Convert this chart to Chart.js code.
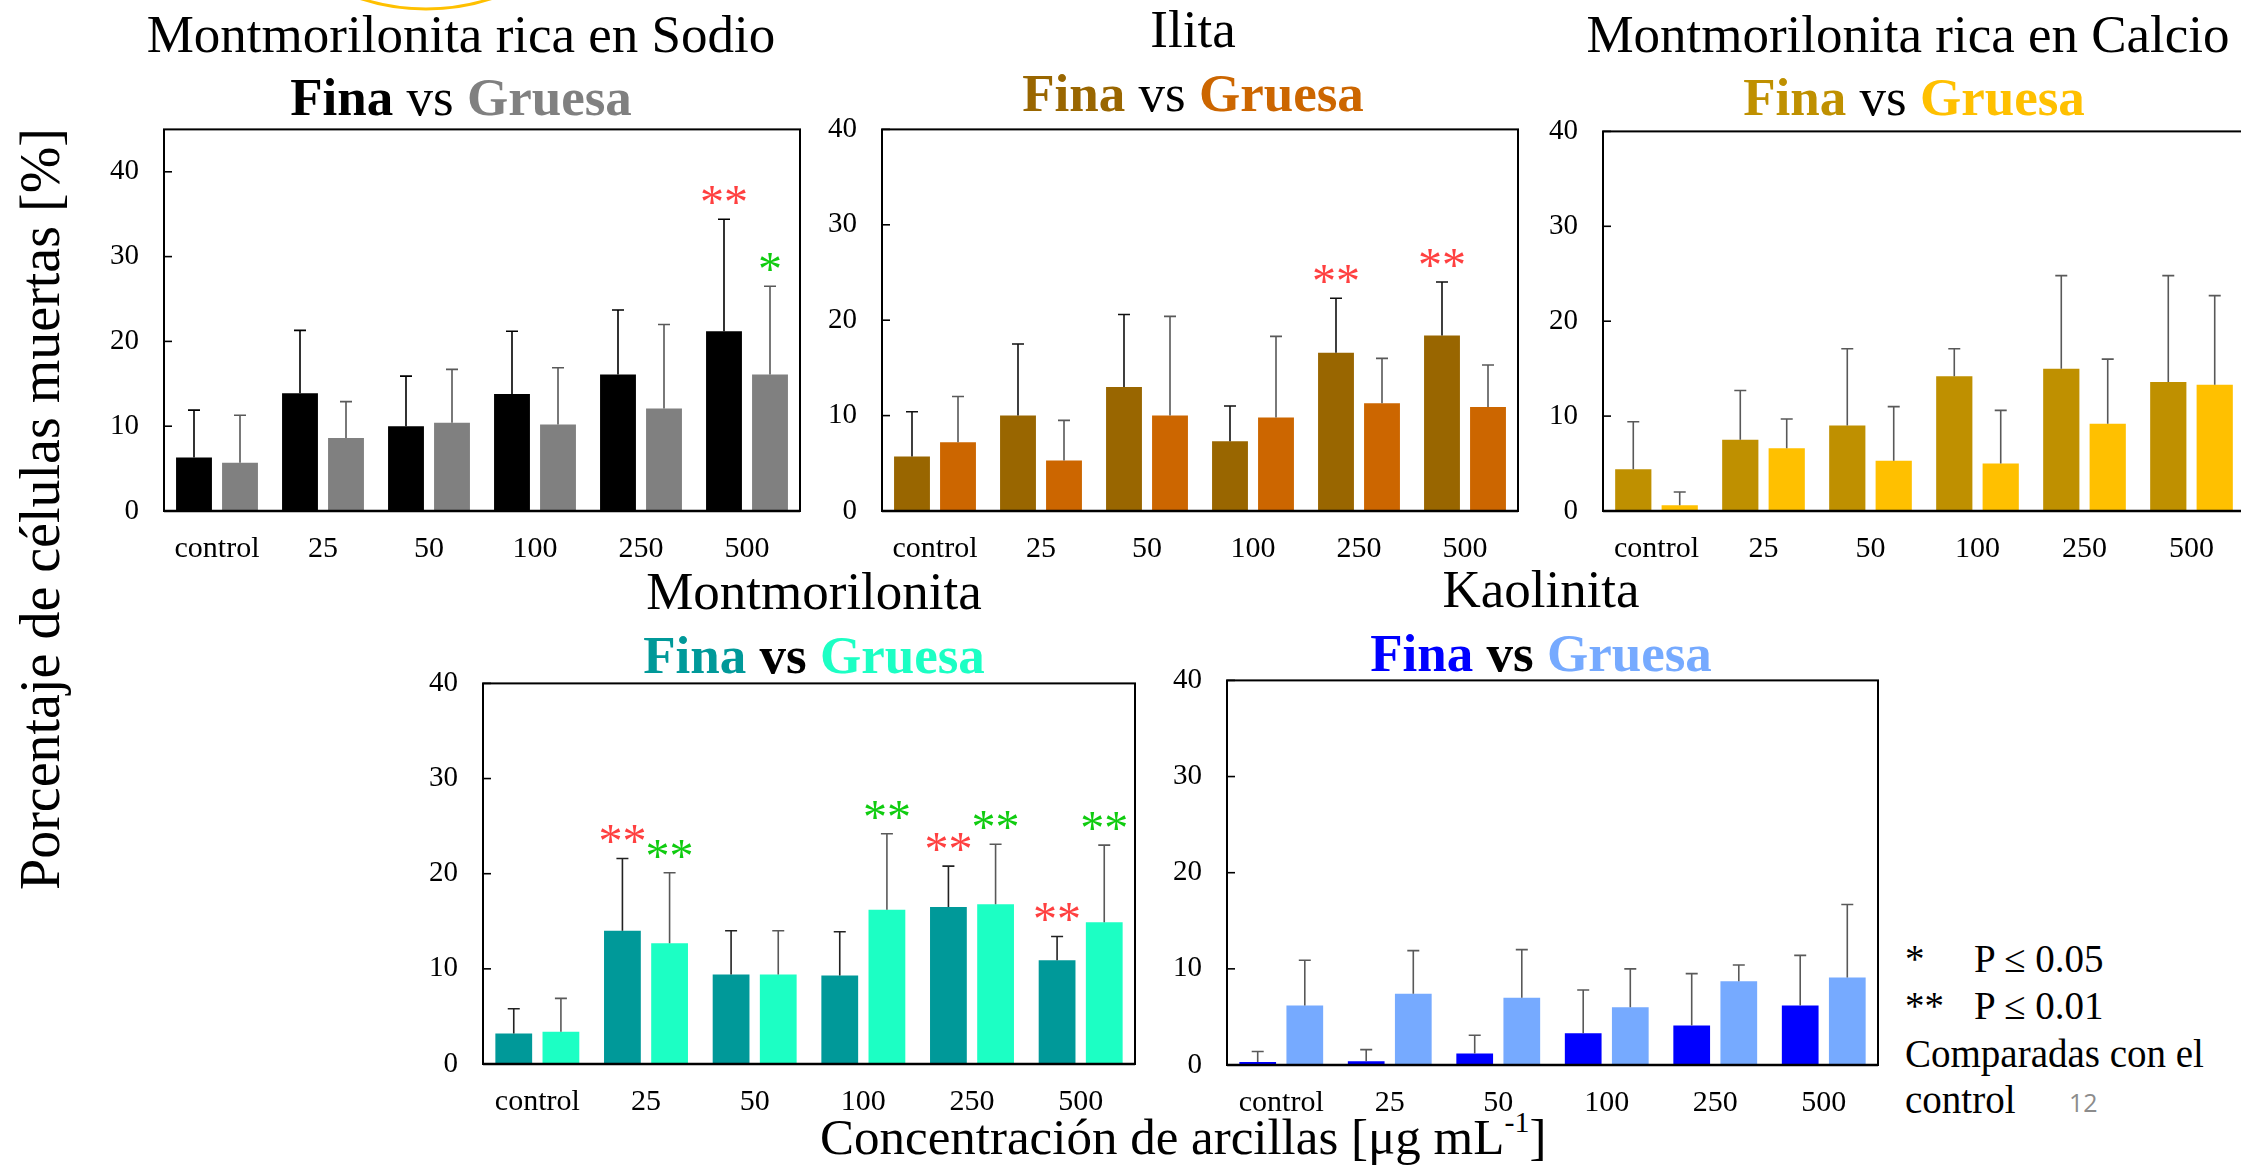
<!DOCTYPE html>
<html>
<head>
<meta charset="utf-8">
<script src="https://cdn.jsdelivr.net/npm/chart.js@4.4.0/dist/chart.umd.min.js"></script>
<style>
html, body { margin:0; padding:0; background:#fff; overflow:hidden; }
body { width:2241px; height:1167px; position:relative; font-family:"Liberation Serif","Times New Roman",serif; color:#000; }
.t { position:absolute; white-space:nowrap; line-height:1; font-size:53px; transform:translateX(-50%); }
.leg { position:absolute; white-space:nowrap; line-height:1; font-size:39px; }
canvas { position:absolute; }
</style>
</head>
<body>

<svg style="position:absolute;left:0;top:0" width="2241" height="20">
  <circle cx="426" cy="-202" r="211" fill="none" stroke="#FFC000" stroke-width="3"/>
</svg>

<div class="t" style="left:461px;top:8px">Montmorilonita rica en Sodio</div>
<div class="t" style="left:461px;top:71px"><b>Fina</b> vs <b style="color:#808080">Gruesa</b></div>

<div class="t" style="left:1193px;top:3px">Ilita</div>
<div class="t" style="left:1193px;top:67px"><b style="color:#996600">Fina</b> vs <b style="color:#CC6600">Gruesa</b></div>

<div class="t" style="left:1908px;top:8px">Montmorilonita rica en Calcio</div>
<div class="t" style="left:1914px;top:71px"><b style="color:#BF9000">Fina</b> vs <b style="color:#FFC000">Gruesa</b></div>

<div class="t" style="left:814px;top:565px">Montmorilonita</div>
<div class="t" style="left:814px;top:629px"><b style="color:#009999">Fina</b> <b>vs</b> <b style="color:#1CFFC4">Gruesa</b></div>

<div class="t" style="left:1541px;top:563px">Kaolinita</div>
<div class="t" style="left:1541px;top:627px"><b style="color:#0000FF">Fina</b> <b>vs</b> <b style="color:#76AAFF">Gruesa</b></div>

<div style="position:absolute;left:40px;top:509px;font-size:56px;line-height:1;white-space:nowrap;transform:translate(-50%,-50%) rotate(-90deg)">Porcentaje de células muertas [%]</div>

<div style="position:absolute;left:820px;top:1112px;font-size:51px;line-height:1;white-space:nowrap">Concentración de arcillas [μg mL<sup style="font-size:30px;vertical-align:0;position:relative;top:-22px">-1</sup>]</div>

<div class="leg" style="left:1905px;top:939px">*</div>
<div class="leg" style="left:1974px;top:939px">P ≤ 0.05</div>
<div class="leg" style="left:1905px;top:986px">**</div>
<div class="leg" style="left:1974px;top:986px">P ≤ 0.01</div>
<div class="leg" style="left:1905px;top:1034px">Comparadas con el</div>
<div class="leg" style="left:1905px;top:1080px">control</div>
<div style="position:absolute;left:2069px;top:1090px;font-family:'Open Sans',sans-serif;font-size:25px;line-height:1;color:#8C8C8C">12</div>

<script>
const categories = ['control', '25', '50', '100', '250', '500'];
const yTicks = [0, 10, 20, 30, 40];

// Montmorilonita rica en Sodio
const sodioFina      = [6.3, 13.9, 10.0, 13.8, 16.1, 21.2];
const sodioFinaErr   = [5.6, 7.4, 5.9, 7.4, 7.6, 13.2];
const sodioGruesa    = [5.7, 8.6, 10.4, 10.2, 12.1, 16.1];
const sodioGruesaErr = [5.6, 4.3, 6.3, 6.7, 9.9, 10.4];
const sodioSigFina   = ['', '', '', '', '', '**'];
const sodioSigGruesa = ['', '', '', '', '', '*'];

// Ilita
const ilitaFina      = [5.7, 10.0, 13.0, 7.3, 16.6, 18.4];
const ilitaFinaErr   = [4.7, 7.5, 7.6, 3.7, 5.7, 5.6];
const ilitaGruesa    = [7.2, 5.3, 10.0, 9.8, 11.3, 10.9];
const ilitaGruesaErr = [4.8, 4.2, 10.4, 8.5, 4.7, 4.4];
const ilitaSigFina   = ['', '', '', '', '**', '**'];
const ilitaSigGruesa = ['', '', '', '', '', ''];

// Montmorilonita rica en Calcio
const calcioFina      = [4.4, 7.5, 9.0, 14.2, 15.0, 13.6];
const calcioFinaErr   = [5.0, 5.2, 8.1, 2.9, 9.8, 11.2];
const calcioGruesa    = [0.6, 6.6, 5.3, 5.0, 9.2, 13.3];
const calcioGruesaErr = [1.4, 3.1, 5.7, 5.6, 6.8, 9.4];
const calcioSigFina   = ['', '', '', '', '', ''];
const calcioSigGruesa = ['', '', '', '', '', ''];

// Montmorilonita
const montFina      = [3.2, 14.0, 9.4, 9.3, 16.5, 10.9];
const montFinaErr   = [2.6, 7.6, 4.6, 4.6, 4.3, 2.5];
const montGruesa    = [3.4, 12.7, 9.4, 16.2, 16.8, 14.9];
const montGruesaErr = [3.5, 7.4, 4.6, 8.0, 6.3, 8.1];
const montSigFina   = ['', '**', '', '', '**', '**'];
const montSigGruesa = ['', '**', '', '**', '**', '**'];

// Kaolinita
const kaoFina      = [0.3, 0.4, 1.2, 3.3, 4.1, 6.2];
const kaoFinaErr   = [1.1, 1.2, 1.9, 4.5, 5.4, 5.2];
const kaoGruesa    = [6.2, 7.4, 7.0, 6.0, 8.7, 9.1];
const kaoGruesaErr = [4.7, 4.5, 5.0, 4.0, 1.7, 7.6];

const SIG_RED = '#FF4040', SIG_GREEN = '#10CC10';
const M_LEFT = 80, M_TOP = 30, M_RIGHT = 10, M_BOTTOM = 70;

const decor = {
    id: 'decor',
    afterDatasetsDraw(chart) {
        const ctx = chart.ctx, y = chart.scales.y;
        chart.data.datasets.forEach((ds, i) => {
            const meta = chart.getDatasetMeta(i);
            meta.data.forEach((bar, j) => {
                const top = y.getPixelForValue(ds.data[j] + ds.errors[j]);
                ctx.save();
                ctx.strokeStyle = ds.errColor;
                ctx.lineWidth = 1.6;
                ctx.beginPath();
                ctx.moveTo(bar.x, bar.y);
                ctx.lineTo(bar.x, top);
                ctx.moveTo(bar.x - 6, top);
                ctx.lineTo(bar.x + 6, top);
                ctx.stroke();
                const s = ds.sig[j];
                if (s) {
                    ctx.font = '48px "Liberation Serif", serif';
                    ctx.fillStyle = ds.sigColor;
                    ctx.textAlign = 'center';
                    ctx.textBaseline = 'alphabetic';
                    const m = ctx.measureText(s);
                    const cy = top - 24;
                    ctx.fillText(s, bar.x, cy + (m.actualBoundingBoxAscent - m.actualBoundingBoxDescent) / 2);
                }
                ctx.restore();
            });
        });
    },
    afterDraw(chart) {
        const ctx = chart.ctx, a = chart.chartArea, y = chart.scales.y;
        ctx.save();
        ctx.strokeStyle = '#000';
        ctx.lineWidth = 1.6;
        yTicks.forEach(v => {
            const py = y.getPixelForValue(v);
            ctx.beginPath();
            ctx.moveTo(a.left, py);
            ctx.lineTo(a.left + 8, py);
            ctx.stroke();
        });
        ctx.lineWidth = 2;
        ctx.strokeRect(a.left, a.top, a.right - a.left, a.bottom - a.top);
        ctx.lineWidth = 2.5;
        ctx.beginPath();
        ctx.moveTo(a.left, a.bottom);
        ctx.lineTo(a.right, a.bottom);
        ctx.stroke();
        ctx.restore();
    }
};

function configPanel(yMax, series) {
    return {
        type: 'bar',
        data: {
            labels: categories,
            datasets: series.map(s => ({
                label: s.label,
                data: s.data,
                errors: s.err,
                sig: s.sig,
                sigColor: s.sigColor,
                errColor: s.errColor,
                backgroundColor: s.color,
                borderWidth: 0,
                categoryPercentage: 0.868,
                barPercentage: 0.78
            }))
        },
        options: {
            responsive: false,
            maintainAspectRatio: false,
            animation: false,
            devicePixelRatio: 1,
            layout: { autoPadding: false, padding: { top: M_TOP, right: M_RIGHT, left: 0, bottom: 0 } },
            plugins: { legend: { display: false }, tooltip: { enabled: false } },
            scales: {
                x: {
                    grid: { display: false, drawTicks: false },
                    border: { display: false },
                    ticks: { color: '#000', font: { family: 'Liberation Serif', size: 30 }, padding: 20, maxRotation: 0, autoSkip: false },
                    afterFit: s => { s.height = M_BOTTOM; }
                },
                y: {
                    min: 0,
                    max: yMax,
                    grid: { display: false, drawTicks: false },
                    border: { display: false },
                    ticks: { color: '#000', font: { family: 'Liberation Serif', size: 29 }, padding: 25 },
                    afterBuildTicks: s => { s.ticks = yTicks.map(v => ({ value: v })); },
                    afterFit: s => { s.width = M_LEFT; }
                }
            }
        },
        plugins: [decor]
    };
}

function colocar(canvas, L, T, W, H, extraTop) {
    canvas.width = W + M_LEFT + M_RIGHT;
    canvas.height = H + M_TOP + M_BOTTOM + extraTop;
    canvas.style.left = (L - M_LEFT) + 'px';
    canvas.style.top = (T - M_TOP - extraTop) + 'px';
    canvas.style.width = canvas.width + 'px';
    canvas.style.height = canvas.height + 'px';
}

function crearPanel(box, yMax, series) {
    const L = Math.round(box[0]), T = Math.round(box[1]);
    const W = Math.round(box[2] - box[0]), H = Math.round(box[3] - box[1]);
    const canvas = document.createElement('canvas');
    document.body.appendChild(canvas);
    colocar(canvas, L, T, W, H, 0);
    // Chart.js deja un margen extra arriba: medirlo y compensarlo
    let chart = new Chart(canvas.getContext('2d'), configPanel(yMax, series));
    const extra = Math.round(chart.chartArea.top - M_TOP);
    chart.destroy();
    colocar(canvas, L, T, W, H, extra);
    chart = new Chart(canvas.getContext('2d'), configPanel(yMax, series));
}

function serie(label, data, err, sig, color, errColor, sigColor) {
    return { label, data, err, sig, color, errColor, sigColor };
}
const vacio = ['', '', '', '', '', ''];

crearPanel([164, 128.5, 800, 510.5], 45, [
    serie('Fina', sodioFina, sodioFinaErr, sodioSigFina, '#000000', '#000000', SIG_RED),
    serie('Gruesa', sodioGruesa, sodioGruesaErr, sodioSigGruesa, '#808080', '#595959', SIG_GREEN)
]);
crearPanel([882, 129, 1518, 510.5], 40, [
    serie('Fina', ilitaFina, ilitaFinaErr, ilitaSigFina, '#996600', '#111111', SIG_RED),
    serie('Gruesa', ilitaGruesa, ilitaGruesaErr, ilitaSigGruesa, '#CC6600', '#595959', SIG_GREEN)
]);
crearPanel([1602.5, 131, 2244.5, 510.5], 40, [
    serie('Fina', calcioFina, calcioFinaErr, calcioSigFina, '#BF9000', '#595959', SIG_RED),
    serie('Gruesa', calcioGruesa, calcioGruesaErr, calcioSigGruesa, '#FFC000', '#595959', SIG_GREEN)
]);
crearPanel([483, 683, 1134.6, 1063.7], 40, [
    serie('Fina', montFina, montFinaErr, montSigFina, '#009999', '#222222', SIG_RED),
    serie('Gruesa', montGruesa, montGruesaErr, montSigGruesa, '#1CFFC4', '#595959', SIG_GREEN)
]);
crearPanel([1226.5, 680.4, 1877, 1065.2], 40, [
    serie('Fina', kaoFina, kaoFinaErr, vacio, '#0000FF', '#595959', SIG_RED),
    serie('Gruesa', kaoGruesa, kaoGruesaErr, vacio, '#76AAFF', '#595959', SIG_GREEN)
]);
</script>
</body>
</html>
